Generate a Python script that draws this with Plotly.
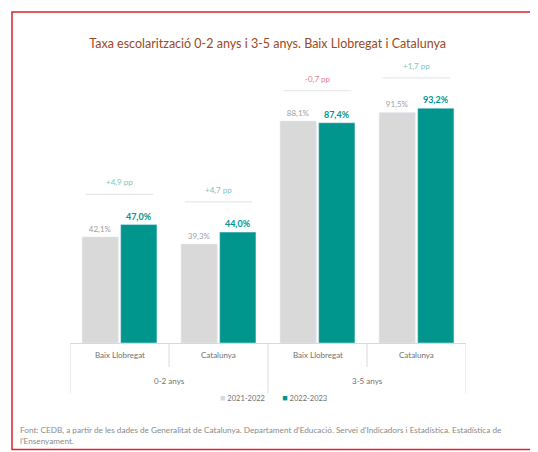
import plotly.graph_objects as go

# Dades
edats = ["0-2 anys", "0-2 anys", "3-5 anys", "3-5 anys"]
territoris = ["Baix Llobregat", "Catalunya", "Baix Llobregat", "Catalunya"]
curs_2021 = [42.1, 39.3, 88.1, 91.5]
curs_2022 = [47.0, 44.0, 87.4, 93.2]
cursos = ["2021-2022", "2022-2023"]

GRIS = "#d9d9d9"
VERD = "#00958d"
FONT = "Lato"

x_idx = list(range(len(territoris)))


def pct(v):
    return f"{v:.1f}%".replace(".", ",")


fig = go.Figure()
fig.add_trace(go.Bar(
    x=x_idx, y=curs_2021, name=cursos[0],
    marker_color=GRIS,
    text=[pct(v) for v in curs_2021], textposition="outside",
    textfont=dict(color="#a0a0a0", size=8, family=FONT),
    cliponaxis=False,
))
fig.add_trace(go.Bar(
    x=x_idx, y=curs_2022, name=cursos[1],
    marker_color=VERD,
    text=[f"<b>{pct(v)}</b>" for v in curs_2022], textposition="outside",
    textfont=dict(color=VERD, size=9, family=FONT),
    cliponaxis=False,
))

# Diferències en punts percentuals
for i, (a, b) in enumerate(zip(curs_2021, curs_2022)):
    d = b - a
    top = max(a, b) + 12
    color = "#e8798a" if d < 0 else "#7cc6c0"
    fig.add_shape(type="line", xref="x", yref="y",
                  x0=i - 0.34, x1=i + 0.34, y0=top, y1=top,
                  line=dict(color="#e3e3e3", width=1))
    fig.add_annotation(x=i, y=top + 2, xref="x", yref="y",
                       text=f"{d:+.1f} pp".replace(".", ","),
                       showarrow=False, yanchor="bottom",
                       font=dict(color=color, size=8, family=FONT))

# Eix de categories amb separadors
for i, t in enumerate(territoris):
    fig.add_annotation(x=i, y=-0.067, xref="x", yref="paper", text=t,
                       showarrow=False, font=dict(color="#707070", size=8, family=FONT))
for i in [0.5, 2.5]:
    fig.add_annotation(x=i, y=-0.159, xref="x", yref="paper", text=edats[int(i - 0.5)],
                       showarrow=False, font=dict(color="#707070", size=8, family=FONT))
for p in [-0.5, 1.5, 3.5]:
    fig.add_shape(type="line", xref="x", yref="paper", x0=p, x1=p, y0=0, y1=-0.177,
                  line=dict(color="#dadada", width=1))
for p in [0.5, 2.5]:
    fig.add_shape(type="line", xref="x", yref="paper", x0=p, x1=p, y0=0, y1=-0.085,
                  line=dict(color="#dadada", width=1))

# Llegenda compacta
llegenda = ("&nbsp;" * 9).join(
    f"<span style='color:{c};font-size:9px'>■</span> {n}" for n, c in zip(cursos, [GRIS, VERD])
)
fig.add_annotation(x=0.515, y=-0.219, xref="paper", yref="paper", text=llegenda,
                   showarrow=False, font=dict(color="#707070", size=7.5, family=FONT))

# Marc vermell
fig.add_shape(type="rect", xref="paper", yref="paper",
              x0=-0.1465, x1=1.166, y0=-0.376, y1=1.1696,
              line=dict(color="#e0202a", width=1.5))

fig.add_annotation(
    x=-0.131, y=-0.283, xref="paper", yref="paper", xanchor="left", yanchor="top",
    align="left", showarrow=False,
    text=("Font: CEDB, a partir de les dades de Generalitat de Catalunya. Departament d'Educació. "
          "Servei d'Indicadors i Estadística. Estadística de<br>l'Ensenyament."),
    font=dict(color="#8a8a8a", size=8.2, family=FONT),
)

fig.update_layout(
    width=530, height=444,
    margin=dict(l=62, r=72, t=52, b=109),
    paper_bgcolor="white", plot_bgcolor="white",
    showlegend=False,
    title=dict(text="Taxa escolarització 0-2 anys i 3-5 anys. Baix Llobregat i Catalunya",
               x=0.49, xanchor="center", y=0.919, yanchor="middle",
               font=dict(color="#9a4a22", size=12.5, family=FONT)),
    barmode="group", bargap=0.22, bargroupgap=0.06,
    xaxis=dict(range=[-0.5, 3.5], showticklabels=False, showgrid=False, zeroline=False,
               showline=True, linecolor="#d9d9d9", linewidth=1, fixedrange=True),
    yaxis=dict(range=[0, 112.3], visible=False, fixedrange=True),
)

fig.write_html("out.html")
